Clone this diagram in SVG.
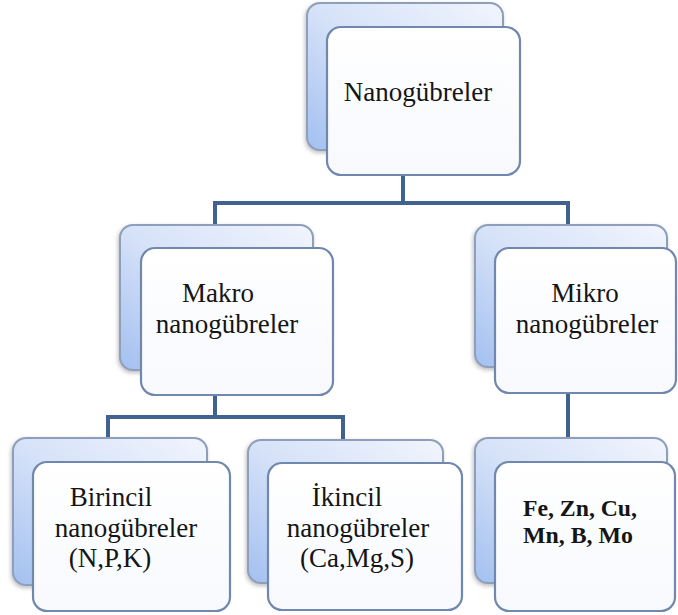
<svg xmlns="http://www.w3.org/2000/svg" width="678" height="615" viewBox="0 0 678 615">
<style>
.back{fill:url(#gb);stroke:#8f9fbb;stroke-width:2;filter:url(#sh)}
.front{fill:url(#gf);stroke:#7088ae;stroke-width:2.2}
.t{font-family:"Liberation Serif","Times New Roman",serif;font-size:27px;fill:#151515;text-anchor:middle}
.b{font-weight:bold;font-size:23px}
.conn{fill:none;stroke:#41628f;stroke-width:4}
</style>
<defs>
<linearGradient id="gb" x1="1" y1="0" x2="0" y2="1">
<stop offset="0" stop-color="#f1f5fd"/>
<stop offset="0.5" stop-color="#d6e2f8"/>
<stop offset="1" stop-color="#a3c0f0"/>
</linearGradient>
<linearGradient id="gf" x1="0" y1="0" x2="0" y2="1">
<stop offset="0" stop-color="#ffffff"/>
<stop offset="1" stop-color="#f7f9fd"/>
</linearGradient>
<filter id="sh" x="-10%" y="-10%" width="130%" height="130%">
<feDropShadow dx="-1" dy="2" stdDeviation="2" flood-color="#6a6a6a" flood-opacity="0.45"/>
</filter>
</defs>
<rect width="678" height="615" fill="#ffffff"/>
<g id="connectors">
<path class="conn" d="M403,175 V203 M215,203 H568 M215,201 V226 M568,201 V226 M215,395 V417 M108,417 H343 M108,415 V439 M343,415 V441 M568,393 V439"/>
</g>
<g id="node-nanogubreler">
<rect class="back" x="307" y="3" width="196" height="147" rx="13"/>
<rect class="front" x="327" y="27" width="193" height="148" rx="14"/>
<text class="t" x="418" y="101">Nanogübreler</text>
</g>
<g id="node-makro">
<rect class="back" x="120" y="225" width="193" height="145" rx="13"/>
<rect class="front" x="141" y="248" width="192" height="147" rx="14"/>
<text class="t" x="218" y="302">Makro</text>
<text class="t" x="227" y="333">nanogübreler</text>
</g>
<g id="node-mikro">
<rect class="back" x="475" y="225" width="192" height="142" rx="13"/>
<rect class="front" x="495" y="248" width="181" height="145" rx="14"/>
<text class="t" x="585" y="302">Mikro</text>
<text class="t" x="587" y="333">nanogübreler</text>
</g>
<g id="node-birincil">
<rect class="back" x="13" y="438" width="194" height="147" rx="13"/>
<rect class="front" x="33" y="462" width="197" height="149" rx="14"/>
<text class="t" x="111" y="506">Birincil</text>
<text class="t" x="126" y="537">nanogübreler</text>
<text class="t" x="110" y="567">(N,P,K)</text>
</g>
<g id="node-ikincil">
<rect class="back" x="248" y="440" width="195" height="143" rx="13"/>
<rect class="front" x="268" y="463" width="194" height="147" rx="14"/>
<text class="t" x="347" y="506">İkincil</text>
<text class="t" x="358" y="537">nanogübreler</text>
<text class="t" x="357" y="567">(Ca,Mg,S)</text>
</g>
<g id="node-mikro-elements">
<rect class="back" x="475" y="438" width="192" height="145" rx="13"/>
<rect class="front" x="495" y="462" width="180" height="149" rx="14"/>
<text class="t b" x="580" y="516" textLength="114" lengthAdjust="spacingAndGlyphs">Fe, Zn, Cu,</text>
<text class="t b" x="578" y="543" textLength="110" lengthAdjust="spacingAndGlyphs">Mn, B, Mo</text>
</g>
</svg>
